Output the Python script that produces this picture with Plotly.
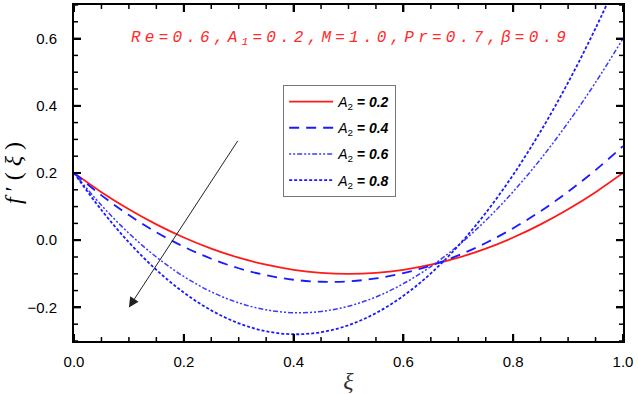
import plotly.graph_objects as go

xi = [0.0, 0.05, 0.1, 0.15, 0.2, 0.25, 0.3, 0.35, 0.4, 0.45, 0.5,
      0.55, 0.6, 0.65, 0.7, 0.75, 0.8, 0.85, 0.9, 0.95, 1.0]

f_a02 = [0.2, 0.143, 0.092, 0.047, 0.008, -0.025, -0.052, -0.073, -0.088, -0.097, -0.1,
         -0.097, -0.088, -0.073, -0.052, -0.025, 0.008, 0.047, 0.092, 0.143, 0.2]
f_a04 = [0.2, 0.1335, 0.0748, 0.0238, -0.0195, -0.0553, -0.0835, -0.1043, -0.1177, -0.1237, -0.1224,
         -0.1138, -0.098, -0.0752, -0.0452, -0.0083, 0.0357, 0.0865, 0.1442, 0.2087, 0.28]
f_a06 = [0.2, 0.1039, 0.0206, -0.05, -0.108, -0.1535, -0.1865, -0.2073, -0.2158, -0.2121, -0.1965,
         -0.1689, -0.1295, -0.0783, -0.0156, 0.0588, 0.1445, 0.2416, 0.35, 0.4695, 0.6]
f_a08 = [0.2, 0.0897, -0.0064, -0.0883, -0.1558, -0.2088, -0.2473, -0.2711, -0.2799, -0.274, -0.253,
         -0.2169, -0.1655, -0.0988, -0.0165, 0.0813, 0.1948, 0.3241, 0.4694, 0.6306, 0.808]

series_names = ["0.2", "0.4", "0.6", "0.8"]
series_vals = [f_a02, f_a04, f_a06, f_a08]
x_range = [0.0, 1.0]
y_range = [-0.3, 0.7]
x_major = [0.0, 0.2, 0.4, 0.6, 0.8, 1.0]
y_major = [-0.2, 0.0, 0.2, 0.4, 0.6]

params_text = "Re=0.6,A₁=0.2,M=1.0,Pr=0.7,β=0.9"

styles = [
    dict(color="#ff1a1a", width=1.8, dash="solid"),
    dict(color="#1a1aff", width=1.8, dash="10px,7px"),
    dict(color="#3a3aff", width=1.5, dash="2px,2px,2px,2px,5px,2px"),
    dict(color="#1a1aff", width=1.8, dash="3px,2px"),
]

W, H = 638, 394
ML, MR, MT, MB = 74, 15, 3, 52
plot_w = W - ML - MR
plot_h = H - MT - MB

fig = go.Figure()
for i, (name, vals, st) in enumerate(zip(series_names, series_vals, styles)):
    fig.add_trace(go.Scatter(
        x=xi, y=vals, mode="lines", line=dict(shape="spline", smoothing=1.0, **st),
        name=f"<i>A</i><sub>2</sub><b><i> = {name}</i></b>",
        legendgroup=f"g{i}",
    ))

# spaced monospace annotation text
gap = '<span style="font-size:7px"> </span>'
chars = []
for ch in params_text:
    if ch == "₁":
        chars.append("<sub>1</sub>")
    else:
        chars.append(ch)
ann_text = "<i>" + gap.join(chars) + "</i>"

# tick marks (major every 0.2, minor every 0.05) on all four sides, inside
def minor_vals(lo, hi):
    out = []
    k = round(lo / 0.05)
    while k * 0.05 <= hi + 1e-9:
        v = round(k * 0.05, 4)
        if abs(v / 0.2 - round(v / 0.2)) > 1e-6:
            out.append(v)
        k += 1
    return out

tick_shapes = []
for vals, ln, w in [(x_major, 7, 2), (minor_vals(*x_range), 4, 1.5)]:
    frac = ln / plot_h
    for v in vals:
        tick_shapes.append(dict(type="line", xref="x", yref="paper", x0=v, x1=v, y0=0, y1=frac,
                                line=dict(color="black", width=w), layer="above"))
        tick_shapes.append(dict(type="line", xref="x", yref="paper", x0=v, x1=v, y0=1, y1=1 - frac,
                                line=dict(color="black", width=w), layer="above"))
for vals, ln, w in [(y_major, 7, 2), (minor_vals(*y_range), 4, 1.5)]:
    frac = ln / plot_w
    for v in vals:
        tick_shapes.append(dict(type="line", xref="paper", yref="y", y0=v, y1=v, x0=0, x1=frac,
                                line=dict(color="black", width=w), layer="above"))
        tick_shapes.append(dict(type="line", xref="paper", yref="y", y0=v, y1=v, x0=1, x1=1 - frac,
                                line=dict(color="black", width=w), layer="above"))

axis_common = dict(
    showgrid=False, zeroline=False, showline=True, linecolor="black", linewidth=2,
    mirror="allticks", ticks="inside", ticklen=7, tickwidth=2, tickcolor="black",
    tickmode="linear", tick0=0, dtick=0.2,
    tickfont=dict(family="Liberation Sans", size=15, color="black"),
    tickformat=".1f",
)

fig.update_layout(
    width=W, height=H,
    margin=dict(l=ML, r=MR, t=MT, b=MB),
    paper_bgcolor="white", plot_bgcolor="white",
    xaxis=dict(range=x_range, ticklabelstandoff=6,
               title=dict(text="<i>ξ</i>", font=dict(family="Liberation Serif", size=24, color="#333"), standoff=4),
               **axis_common),
    yaxis=dict(range=y_range, ticklabelstandoff=12,
               title=dict(text="<i>f</i> ′ ( <i>ξ</i> )", font=dict(family="Liberation Serif", size=24, color="black"), standoff=6),
               **axis_common),
    legend=dict(x=0.381, y=0.762, xanchor="left", yanchor="top",
                bgcolor="rgba(255,255,255,0)", bordercolor="#777", borderwidth=1,
                font=dict(family="Liberation Sans", size=14, color="black"),
                itemwidth=44, traceorder="grouped", tracegroupgap=5),
    showlegend=True,
    shapes=tick_shapes,
    annotations=[
        dict(x=0.5, y=0.6, xref="x", yref="y", text=ann_text, showarrow=False,
             font=dict(family="Liberation Mono", size=16, color="#ff2a2a")),
        dict(x=0.1, y=-0.2, ax=0.3, ay=0.3, xref="x", yref="y", axref="x", ayref="y",
             text="", showarrow=True, arrowhead=2, arrowsize=2, arrowwidth=1, arrowcolor="#222"),
    ],
)

fig.write_html("out.html", config={"displayModeBar": False},
               post_script="document.body.style.margin='0';document.body.style.overflow='hidden';")
